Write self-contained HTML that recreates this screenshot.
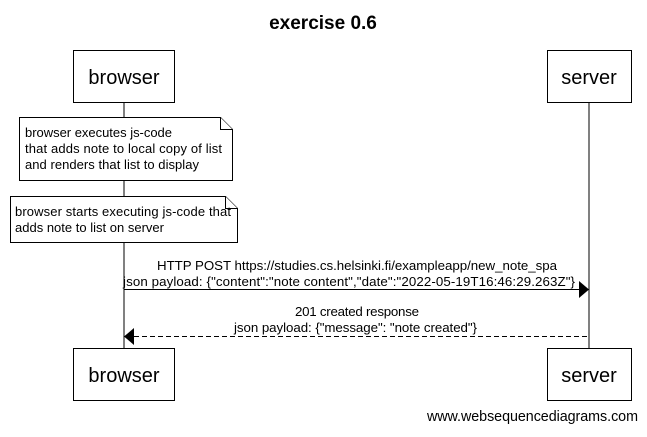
<!DOCTYPE html>
<html><head><style>body{margin:0;background:#fff}</style></head><body>
<svg width="647" height="432" xmlns="http://www.w3.org/2000/svg" font-family="Liberation Sans, sans-serif">
<rect width="647" height="432" fill="#fff"/>
<text x="323" y="29" font-size="19" font-weight="bold" text-anchor="middle">exercise 0.6</text>
<line x1="124" y1="102" x2="124" y2="348" stroke="#000"/>
<line x1="589" y1="102" x2="589" y2="348" stroke="#000"/>
<g fill="#fff" stroke="#000">
<rect x="73.5" y="50.5" width="101" height="52"/>
<rect x="547.5" y="50.5" width="84" height="52"/>
<rect x="73.5" y="348.5" width="101" height="52"/>
<rect x="547.5" y="348.5" width="84" height="52"/>
<path d="M19.5 117.5H220.5L232.5 129.5V180.5H19.5Z"/>
<path d="M220.5 117.5V129.5H232.5"/>
<path d="M10.5 196.5H225.5L237.5 208.5V242.5H10.5Z"/>
<path d="M225.5 196.5V208.5H237.5"/>
</g>
<g font-size="20" text-anchor="middle">
<text x="124" y="84">browser</text><text x="589" y="84">server</text>
<text x="124" y="382">browser</text><text x="589" y="382">server</text>
</g>
<g font-size="13">
<text x="25" y="137" textLength="147">browser executes js-code</text>
<text x="25" y="153" textLength="197">that adds note to local copy of list</text>
<text x="25" y="169" textLength="174">and renders that list to display</text>
<text x="15" y="216" textLength="216">browser starts executing js-code that</text>
<text x="15" y="232" textLength="149">adds note to list on server</text>
</g>
<g font-size="13.3">
<text x="157" y="270" textLength="400">HTTP POST https://studies.cs.helsinki.fi/exampleapp/new_note_spa</text>
<text x="123" y="286" textLength="452">json payload: {"content":"note content","date":"2022-05-19T16:46:29.263Z"}</text>
<text x="295" y="316" textLength="124">201 created response</text>
<text x="234" y="332" textLength="243">json payload: {"message": "note created"}</text>
<text x="427" y="421" textLength="211" font-size="14.3">www.websequencediagrams.com</text>
</g>
<line x1="124" y1="289.5" x2="580" y2="289.5" stroke="#000"/>
<path d="M579 281L589 289.5L579 298Z"/>
<line x1="134" y1="336.5" x2="589" y2="336.5" stroke="#000" stroke-dasharray="5,3"/>
<path d="M134 328L124 336.5L134 345Z"/>
</svg>
</body></html>
